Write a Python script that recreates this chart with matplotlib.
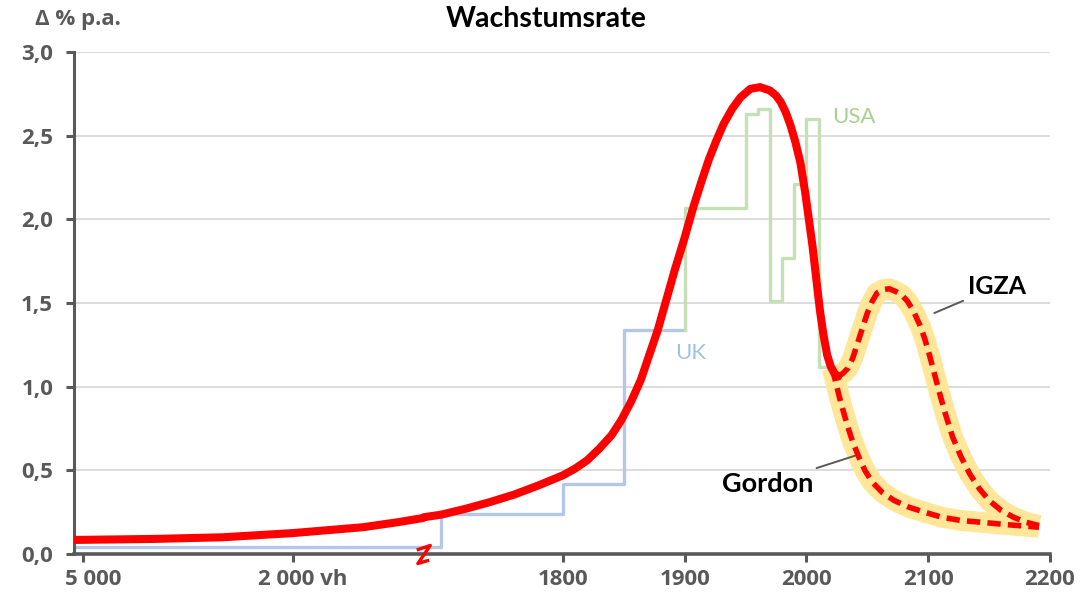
import numpy as np
import matplotlib.pyplot as plt
import matplotlib.transforms as mtransforms
from matplotlib.path import Path

# -----------------------------
# Data (growth rate, % p.a.)
# -----------------------------
# Main curve up to today
hist_years = [-5128, -4000, -3000, -2000, -1000, -500, -140,
              1686, 1700, 1720, 1740, 1760, 1780, 1800, 1810, 1820, 1830,
              1840, 1848, 1856, 1864, 1871, 1878, 1885, 1892, 1900, 1907,
              1914, 1920, 1926, 1932, 1939, 1946, 1954, 1962, 1970, 1975,
              1979, 1983, 1987, 1991, 1995, 1999, 2002, 2005, 2008, 2011,
              2014, 2017, 2020, 2023, 2026]
hist_rate = [0.084, 0.09, 0.10, 0.125, 0.16, 0.19, 0.215,
             0.22, 0.235, 0.27, 0.31, 0.355, 0.41, 0.47, 0.51, 0.56, 0.63,
             0.71, 0.80, 0.91, 1.04, 1.19, 1.34, 1.52, 1.70, 1.89, 2.07,
             2.23, 2.36, 2.47, 2.57, 2.66, 2.73, 2.78, 2.79, 2.77, 2.74,
             2.70, 2.64, 2.56, 2.46, 2.34, 2.16, 2.00, 1.84, 1.65, 1.46,
             1.31, 1.19, 1.12, 1.08, 1.06]

# Forecast: IGZA
igza_years = [2026, 2030, 2034, 2038, 2042, 2046, 2050, 2054, 2058, 2063,
              2068, 2073, 2078, 2083, 2088, 2093, 2097, 2101, 2105, 2109,
              2114, 2120, 2127, 2134, 2142, 2150, 2160, 2170, 2180, 2191]
igza_rate = [1.06, 1.08, 1.11, 1.17, 1.26, 1.35, 1.44, 1.51, 1.56, 1.58,
             1.585, 1.57, 1.55, 1.51, 1.45, 1.37, 1.29, 1.19, 1.08, 0.97,
             0.84, 0.70, 0.58, 0.48, 0.39, 0.32, 0.26, 0.22, 0.19, 0.17]

# Forecast: Gordon
gordon_years = [2021, 2024, 2027, 2030, 2034, 2038, 2043, 2048, 2054, 2062,
                2072, 2084, 2097, 2111, 2127, 2143, 2165, 2191]
gordon_rate = [1.11, 1.03, 0.94, 0.86, 0.76, 0.67, 0.58, 0.50, 0.43, 0.37,
               0.32, 0.28, 0.25, 0.22, 0.20, 0.19, 0.175, 0.16]

# UK and USA (step series)
uk_years = [-5128, 1700, 1800, 1850, 1900]
uk_rate = [0.04, 0.24, 0.42, 1.34, 1.34]
usa_years = [1900, 1900, 1950, 1960, 1970, 1980, 1990, 2000, 2010, 2020]
usa_rate = [1.34, 2.07, 2.63, 2.66, 1.51, 1.77, 2.21, 2.60, 1.12, 1.12]

x_ticks = [-5000, -2000, 1800, 1900, 2000, 2100, 2200]
x_labels = ["5 000", "2 000 vh", "1800", "1900", "2000", "2100", "2200"]
y_ticks = [0.0, 0.5, 1.0, 1.5, 2.0, 2.5, 3.0]
y_labels = ["0,0", "0,5", "1,0", "1,5", "2,0", "2,5", "3,0"]

break_year = -140

# -----------------------------
# Broken time axis
# -----------------------------
knot_years = np.array([-5128, break_year, 1686, 2200])
knot_pos = np.array([0.0, 349.0, 350.0, 976.0])


def fwd(x):
    return np.interp(x, knot_years, knot_pos)


def inv(p):
    return np.interp(p, knot_pos, knot_years)


GREY = "#595959"
RED = "#FF0000"
BAND = "#FFE699"

fig = plt.figure(figsize=(10.82, 6.03), dpi=100)
ax = fig.add_axes([74 / 1082, 1 - 554 / 603, 976 / 1082, 502 / 603])
ax.set_xscale("function", functions=(fwd, inv))
ax.set_xlim(-5128, 2200)
ax.set_ylim(0, 3)

# gridlines
for y in y_ticks[1:]:
    ax.axhline(y, color="#D9D9D9", lw=1.3, zorder=0)

# UK / USA steps
ax.plot(uk_years, uk_rate, drawstyle="steps-post", color="#B4C7E7", lw=2.4, zorder=2)
ax.plot(usa_years, usa_rate, drawstyle="steps-post", color="#C5E0B4", lw=2.4, zorder=2)

# forecast bands
for yrs, vals in ((gordon_years, gordon_rate), (igza_years, igza_rate)):
    ax.plot(yrs, vals, color=BAND, lw=15, solid_capstyle="butt",
            solid_joinstyle="round", zorder=3)

# main curve + forecasts
ax.plot(hist_years, hist_rate, color=RED, lw=5.8, solid_capstyle="round",
        solid_joinstyle="round", zorder=5)
ax.plot(gordon_years, gordon_rate, color=RED, lw=4, dashes=(2.4, 1.3), zorder=4)
ax.plot(igza_years, igza_rate, color=RED, lw=4, dashes=(2.4, 1.3), zorder=4)

# axis break marker (tilted "Z")
zig = Path([(-6, 4), (6, 8), (-5, -8), (5, -5)])
ax.plot([break_year], [0], marker=zig, markersize=13, mfc="none", mec=RED,
        mew=2.4, clip_on=False, zorder=6)

# labels
ax.text(2039, 2.61, "USA", color="#A9D18E", fontsize=16, family="Lato",
        ha="center", va="center")
ax.text(1905, 1.20, "UK", color="#9DC3E6", fontsize=16, family="Lato",
        ha="center", va="center")
ax.annotate("IGZA", xy=(2105, 1.44), xytext=(2133, 1.60), fontsize=18,
            fontweight="bold", family="Lato", ha="left", va="center",
            arrowprops=dict(arrowstyle="-", color=GREY, lw=1.4, shrinkA=2, shrinkB=0))
ax.annotate("Gordon", xy=(2041, 0.59), xytext=(2006, 0.42), fontsize=19.5,
            fontweight="bold", family="Lato", ha="right", va="center",
            arrowprops=dict(arrowstyle="-", color=GREY, lw=1.4, shrinkA=2, shrinkB=0))

# axes styling
for side in ("top", "right"):
    ax.spines[side].set_visible(False)
ax.spines["left"].set_color(GREY)
ax.spines["left"].set_linewidth(2.2)
ax.spines["bottom"].set_color(GREY)
ax.spines["bottom"].set_linewidth(2.6)

ax.set_xticks(x_ticks)
ax.set_xticklabels(x_labels)
ax.set_yticks(y_ticks)
ax.set_yticklabels(y_labels)
ax.tick_params(axis="both", colors=GREY, width=2.2, length=6, labelsize=16)
ax.tick_params(axis="y", pad=9)
ax.tick_params(axis="x", pad=5)
for lab in ax.get_xticklabels() + ax.get_yticklabels():
    lab.set_family("Open Sans")
    lab.set_fontweight("bold")
ax.minorticks_off()

# the two BC labels sit slightly right of their ticks
shift = mtransforms.ScaledTranslation(10 / 100, 0, fig.dpi_scale_trans)
for lab in ax.get_xticklabels()[:2]:
    lab.set_transform(lab.get_transform() + shift)

fig.text(546 / 1082, 1 - 19 / 603, "Wachstumsrate", ha="center", va="center",
         fontsize=20.5, fontweight="bold", family="Lato")
fig.text(35 / 1082, 1 - 20 / 603, "Δ % p.a.", ha="left", va="center",
         fontsize=16, fontweight="bold", family="Open Sans", color=GREY)

fig.savefig("out.png", dpi=100)
